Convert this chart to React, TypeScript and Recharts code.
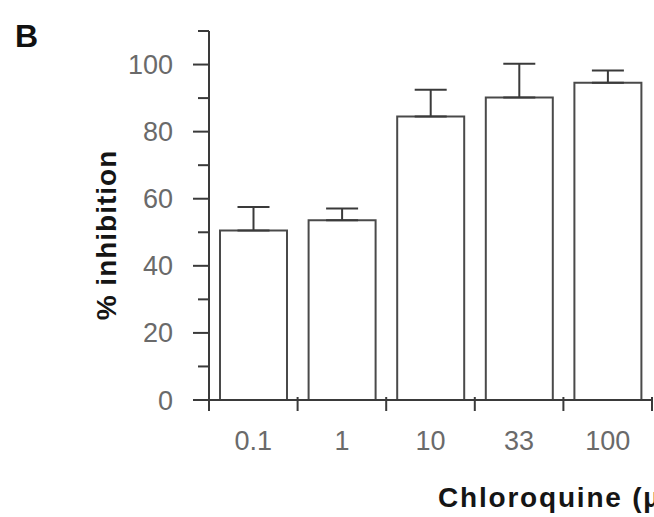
import { BarChart, Bar, XAxis, YAxis, ErrorBar } from "recharts";

const doses = ["0.1", "1", "10", "33", "100"];
const inhibition = [50.5, 53.6, 84.5, 90.2, 94.6];
const sem = [7, 3.5, 8, 10, 3.6];
const yTicks = [0, 10, 20, 30, 40, 50, 60, 70, 80, 90, 100, 110];

const data = doses.map((dose, i) => ({
  dose,
  inhibition: inhibition[i],
  err: [0, sem[i]],
}));

const W = 654;
const H = 517;
const margin = { top: 31, right: 2, left: 0, bottom: 0 };
const yAxisWidth = 209;
const band = (W - margin.right - yAxisWidth) / doses.length;

const font = "'Liberation Sans', Arial, sans-serif";
const axisColor = "#3a3a3a";
const tickText = "#6a6a6a";

function XTick({ x, y, payload, index }: any) {
  const half = band / 2;
  return (
    <g>
      <line x1={x - half} x2={x - half} y1={y - 3} y2={y + 11} stroke={axisColor} strokeWidth={2} />
      {index === doses.length - 1 && (
        <line x1={x + half} x2={x + half} y1={y - 3} y2={y + 11} stroke={axisColor} strokeWidth={2} />
      )}
      <text x={x} y={y + 50} textAnchor="middle" fontSize={27} fill={tickText} fontFamily={font}>
        {payload.value}
      </text>
    </g>
  );
}

function YTick({ x, y, payload }: any) {
  const v = payload.value;
  const major = v % 20 === 0 && v <= 100;
  return (
    <g>
      <line x1={x - (major ? 16 : 11)} x2={x} y1={y} y2={y} stroke={axisColor} strokeWidth={2} />
      {major && (
        <text x={x - 36} y={y + 9.5} textAnchor="end" fontSize={27} fill={tickText} fontFamily={font}>
          {v}
        </text>
      )}
    </g>
  );
}

function YTitle() {
  return (
    <text
      x={106}
      y={235}
      transform="rotate(-90, 106, 235)"
      textAnchor="middle"
      dominantBaseline="central"
      fontSize={28}
      letterSpacing={1}
      fontWeight="bold"
      fill="#151515"
      fontFamily={font}
    >
      % inhibition
    </text>
  );
}

function XTitle() {
  return (
    <text
      x={438}
      y={507}
      fontSize={28}
      letterSpacing={1.8}
      fontWeight="bold"
      fill="#151515"
      fontFamily={font}
    >
      Chloroquine (µM)
    </text>
  );
}

export default function App() {
  return (
    <div style={{ position: "relative", width: W, height: H, background: "#fff" }}>
      <style>{`body{margin:0}`}</style>
      <div
        style={{
          position: "absolute",
          left: 15,
          top: 20,
          fontFamily: font,
          fontWeight: "bold",
          fontSize: 32,
          lineHeight: "32px",
          letterSpacing: 1,
          color: "#111",
        }}
      >
        B
      </div>
      <BarChart width={W} height={H} data={data} margin={margin}>
        <XAxis
          dataKey="dose"
          height={H - 400}
          interval={0}
          tickSize={0}
          tickMargin={0}
          axisLine={{ stroke: axisColor, strokeWidth: 2 }}
          tickLine={false}
          tick={<XTick />}
          label={<XTitle />}
        />
        <YAxis
          type="number"
          domain={[0, 110]}
          ticks={yTicks}
          interval={0}
          width={yAxisWidth}
          tickSize={0}
          tickMargin={0}
          axisLine={{ stroke: axisColor, strokeWidth: 2 }}
          tickLine={false}
          tick={<YTick />}
          label={<YTitle />}
        />
        <Bar
          dataKey="inhibition"
          fill="#ffffff"
          stroke="#4a4a4a"
          strokeWidth={2}
          barSize={67}
          isAnimationActive={false}
        >
          <ErrorBar dataKey="err" width={16} stroke="#3a3a3a" strokeWidth={2} direction="y" />
        </Bar>
      </BarChart>
    </div>
  );
}
